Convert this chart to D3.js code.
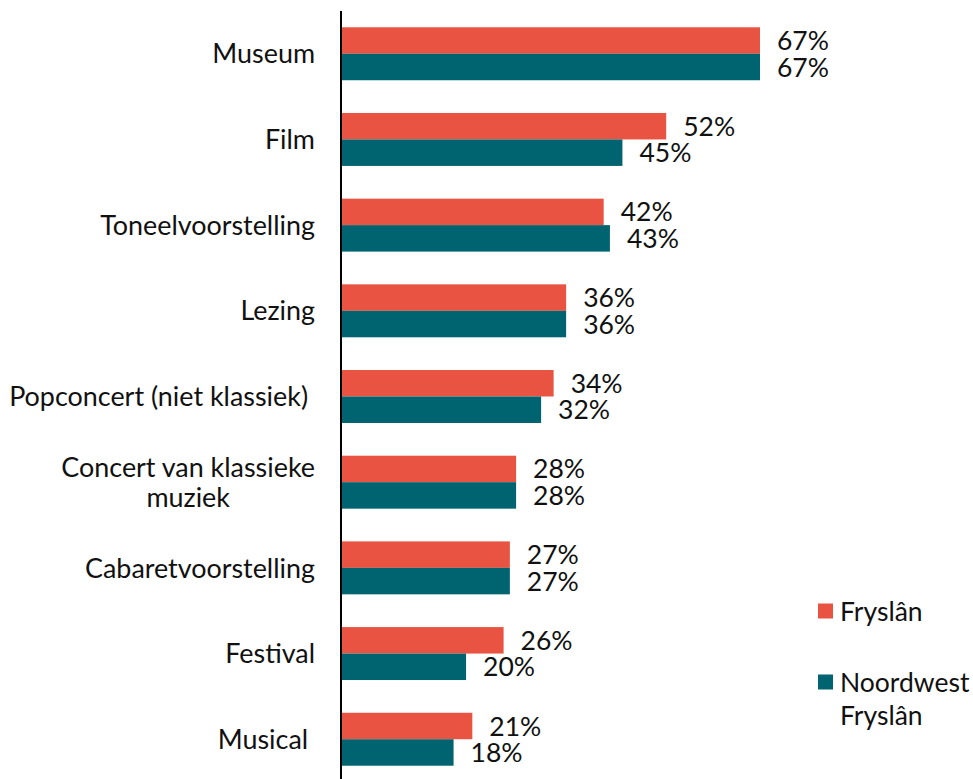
<!DOCTYPE html>
<html>
<head>
<meta charset="utf-8">
<script src="https://cdn.jsdelivr.net/npm/d3@7"></script>
<style>
  html, body { margin: 0; padding: 0; background: #fff; }
  svg { display: block; font-family: Lato, "Noto Sans", sans-serif; }
  text { white-space: pre; }
</style>
</head>
<body>
<svg id="chart" width="973" height="779"></svg>
<script>
const categories = [
  ["Museum"],
  ["Film"],
  ["Toneelvoorstelling"],
  ["Lezing"],
  ["Popconcert (niet klassiek) "],
  ["Concert van klassieke", "muziek"],
  ["Cabaretvoorstelling"],
  ["Festival"],
  ["Musical "]
];
const seriesNames = ["Fryslân", "Noordwest Fryslân"];
const legendLines = [["Fryslân"], ["Noordwest", "Fryslân"]];
const fryslan = [67, 52, 42, 36, 34, 28, 27, 26, 21];
const noordwest = [67, 45, 43, 36, 32, 28, 27, 20, 18];
const colors = ["#E85342", "#006370"];

const svg = d3.select("#chart");
const W = 973, H = 779;
const FS = 26.5;
const FS_CAT = 26.9;
const x0 = 341;
const x = d3.scaleLinear().domain([0, 67]).range([x0, 760]);
const y = d3.scaleBand().domain(d3.range(categories.length)).range([11, 782]).paddingInner(0.382).paddingOuter(0.19);
const sub = d3.scaleBand().domain([0, 1]).range([0, y.bandwidth()]);

const data = categories.map((c, i) => ({i, vals: [fryslan[i], noordwest[i]]}));

const g = svg.append("g");
const groups = g.selectAll("g.cat").data(data).join("g")
  .attr("transform", d => `translate(0,${y(d.i)})`);

groups.selectAll("rect").data(d => d.vals.map((v, k) => ({v, k}))).join("rect")
  .attr("x", x(0))
  .attr("y", d => sub(d.k))
  .attr("width", d => x(d.v) - x(0))
  .attr("height", sub.bandwidth())
  .attr("fill", d => colors[d.k]);

groups.selectAll("text.val").data(d => d.vals.map((v, k) => ({v, k}))).join("text")
  .attr("class", "val")
  .attr("x", d => x(d.v) + 17)
  .attr("y", d => sub(d.k) + sub.bandwidth() / 2)
  .attr("dy", "0.36em")
  .attr("font-size", FS)
  .attr("fill", "#111")
  .text(d => d.v + "%");

// category labels
groups.each(function(d) {
  const lines = categories[d.i];
  const cy = y.bandwidth() / 2;
  const lh = 30;
  const t = d3.select(this).append("g");
  const first = t.append("text")
    .attr("x", 315)
    .attr("y", cy - (lines.length - 1) * lh / 2)
    .attr("dy", "0.36em")
    .attr("text-anchor", "end")
    .attr("font-size", FS_CAT)
    .attr("fill", "#111")
    .text(lines[0]);
  if (lines.length > 1) {
    const w = first.node().getComputedTextLength();
    for (let j = 1; j < lines.length; j++) {
      t.append("text")
        .attr("x", 315 - w / 2)
        .attr("y", cy - (lines.length - 1) * lh / 2 + j * lh)
        .attr("dy", "0.36em")
        .attr("text-anchor", "middle")
        .attr("font-size", FS_CAT)
        .attr("fill", "#111")
        .text(lines[j]);
    }
  }
});

// axis line
svg.append("line")
  .attr("x1", x0).attr("x2", x0)
  .attr("y1", 11).attr("y2", H)
  .attr("stroke", "#000").attr("stroke-width", 2);

// legend
const leg = svg.append("g");
const legY = [611, 682];
legendLines.forEach((lines, k) => {
  leg.append("rect")
    .attr("x", 818).attr("y", legY[k] - 7.5)
    .attr("width", 15).attr("height", 15)
    .attr("fill", colors[k]);
  lines.forEach((ln, j) => {
    leg.append("text")
      .attr("x", 840)
      .attr("y", legY[k] + j * 33)
      .attr("dy", "0.36em")
      .attr("font-size", FS)
      .attr("fill", "#111")
      .text(ln);
  });
});
</script>
</body>
</html>
